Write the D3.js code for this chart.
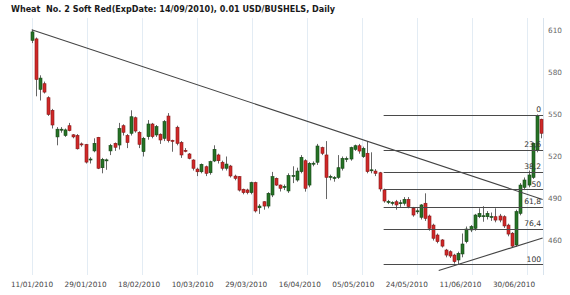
<!DOCTYPE html>
<html><head><meta charset="utf-8">
<script src="https://cdn.jsdelivr.net/npm/d3@7"></script>
<style>html,body{margin:0;padding:0;background:#fff;}svg{display:block;}</style>
</head><body>
<svg id="c" width="570" height="295"></svg>
<script>
// ---- data ----
const title = "Wheat  No. 2 Soft Red(ExpDate: 14/09/2010), 0.01 USD/BUSHELS, Daily";
// [open, high, low, close] per trading day, index 0 = 11/01/2010
const opens  = [603,604,568,572,562,553,534,539,535,542,535.5,535,529,528.5,518,524,533.7,512,517.3,524,529.4,528.2,542,535,536.6,547.7,537.3,523.5,534.2,543.2,535.4,535.9,533,548.9,531.5,540.9,530,524.4,521.8,517.5,511,509.1,512.7,508.4,516.8,521.1,515.9,511.6,513.2,506,505.6,496.6,496.1,494.2,501.3,483.4,487.7,484.6,492.5,504.4,499.6,498.4,495.4,506,503.2,509.2,517,499.6,515,515.9,526.3,521.1,505.6,504.9,505.1,511.6,518.5,518.2,525.1,527.7,519.9,522.3,510.4,509.6,508.4,496.1,487.7,487,487.7,486.8,486.6,489.4,483,481,476.6,486.6,477.5,471,463.9,460.4,453.2,452,449.6,446.1,450.4,459.2,467.5,468.7,477,477.5,477,477,477,477.5,477,471,465.2,456.8,479.4,498,499.6,505.1,524.6,546.6];
const highs  = [610.5,605,578,573.5,563,554,541,541,540,544,536,536,530,529,519.5,533,534,519,518.5,529,530,544,543,536,553,548.5,538,534,546,544,542.5,536.5,546,551,532,542,531,526,522.5,518,512,515,513.5,517,528,522,517,520,514,507,506,497,497,502,502,486,488,494.5,509,505,500,500,508,513,512,521,518,516,516.5,529,527,531,507,506,521,520,520,527,528.5,529,527,531,523,511,509,497,489,488,489,489,491,491,484,483,486,493.7,478.5,472,465,461,454,453,450.5,452,465,470,471,479,483,484.5,481,480,483,479,478,472,466,482,501,505,510,530,550,547];
const lows   = [601,563,560,565,549,540,528,537,534,538,533,525,527,515,515,523,511,508,510.5,521,524,525,535,526,535,537,526,520,532,533,534,529,531,530,523.4,528,519,523,518,510,506,508,506,507,516,515,510,510,505,503,495,493,493,493,480,479,482,483,491,499,495,496,494,501,502,508,494.9,498,513,514,521,489.6,503,502,504,510,516,517,524,522,519,508,508,506,495,487,486,485,482,484,485,483,477,479,475,474,467,460,458,455,448,447.5,443.5,443.2,448,458,466,467,476,473.4,475,474,473,473,469,463,455,455.5,478,496,498,504,523,533];
const closes = [609,575,576,566,550,542.5,539.5,539.5,539,538.5,534,525.5,528.5,516,518.2,529.4,511.6,518,517.6,527.8,526.6,540,537.3,530,548.4,538.2,528.7,533,543.2,534.2,541.3,531.8,544.9,531.3,531.3,529.4,521.1,524.2,518.7,511.6,509.1,514.4,508,516.3,525.1,517,511.6,514.6,506.1,504.4,496,494.2,494.2,501.3,481.1,484.6,484.6,493.7,505.6,499.6,497.3,498.6,506.4,506.5,509.6,519.4,497.3,515.1,515.2,527.5,522.3,505.1,505.8,505,512,518.6,518.6,526.3,527.7,523.9,525.8,509.2,510.5,508,496.8,488.2,487.9,487.2,485.4,487,489.4,484.2,478.2,481.2,485.4,475.8,468.7,461.6,459.2,456,449.6,448.9,444.9,450.8,457.5,468.2,469.9,478.2,479.4,477.7,479.4,477.2,474.6,474.6,470.4,464.6,456,480.6,499.6,503.2,506.8,529.4,548.9,536.6];
const tickIdx    = [0,13,26,39,52,65,78,91,104,117];
const tickLabels = ["11/01/2010","29/01/2010","18/02/2010","10/03/2010","29/03/2010","16/04/2010","05/05/2010","24/05/2010","11/06/2010","30/06/2010"];
const yTicks     = [460,490,520,550,580,610];
// drawn studies
const trendDown  = [[0,610.5],[123.4,489.3]];
const trendUp    = [[98.3,438.6],[123.4,461.8]];
const fibStart   = 85;
const fibHigh    = 550;
const fibLow     = 443.2;
const fibLevels  = [0,23.6,38.2,50,61.8,76.4,100];
const fibLabels  = ["0","23,6","38,2","50","61,8","76,4","100"];

// ---- layout ----
const svg = d3.select("#c");
const plotTop = 18, plotBottom = 275;
const n = opens.length;
const x = d3.scaleLinear().domain([0, n-1]).range([31.7, 541]);
const xEnd = n - 0.5;
const y = d3.scaleLinear().domain([460, 610]).range([240.5, 30.5]);
const xl = d3.scaleLinear().domain([0, 117]).range([32, 514]); // label placement

// vertical grid (fixed pitch)
const gridStep = 55 / (x(1) - x(0));
const gridIdx = d3.range(10).map(k => k * gridStep);
svg.append("g").selectAll("line").data(gridIdx).join("line")
  .attr("x1", d => Math.round(x(d)) + 0.5).attr("x2", d => Math.round(x(d)) + 0.5)
  .attr("y1", plotTop).attr("y2", plotBottom)
  .attr("stroke", "#e3ecf4").attr("stroke-width", 1);
// right border
svg.append("line").attr("x1", Math.round(x(xEnd)) + 0.5).attr("x2", Math.round(x(xEnd)) + 0.5)
  .attr("y1", plotTop).attr("y2", plotBottom).attr("stroke", "#d8e3ed");

// title
svg.append("text").attr("x", 11).attr("y", 11.5).text(title)
  .style("white-space", "pre")
  .attr("textLength", 324).attr("lengthAdjust", "spacingAndGlyphs")
  .attr("font-family", "DejaVu Sans, Verdana, sans-serif").attr("font-weight", "bold")
  .attr("font-size", 9.4).attr("fill", "#1a1a1a");

// x labels
svg.append("g").selectAll("text").data(tickIdx).join("text")
  .attr("x", d => xl(d)).attr("y", 287).attr("text-anchor", "middle")
  .attr("font-family", "DejaVu Sans, Verdana, sans-serif").attr("font-size", 7.3)
  .attr("fill", "#444").text((d, i) => tickLabels[i]);

// y labels
svg.append("g").selectAll("text").data(yTicks).join("text")
  .attr("x", 548).attr("y", d => y(d) + 2.6)
  .attr("font-family", "DejaVu Sans, Verdana, sans-serif").attr("font-size", 7.3)
  .attr("fill", "#666").text(d => d);

// candles
const data = d3.range(n).map(i => ({i, o: opens[i], h: highs[i], l: lows[i], c: closes[i]}));
const g = svg.append("g");
g.selectAll("line.w").data(data).join("line").attr("class", "w")
  .attr("x1", d => Math.round(x(d.i)) + 0.5).attr("x2", d => Math.round(x(d.i)) + 0.5)
  .attr("y1", d => y(d.h)).attr("y2", d => y(d.l))
  .attr("stroke", "#666").attr("stroke-width", 1);
g.selectAll("rect").data(data).join("rect")
  .attr("x", d => Math.round(x(d.i)) - 1)
  .attr("width", 3)
  .attr("y", d => y(Math.max(d.o, d.c)))
  .attr("height", d => Math.max(1, Math.abs(y(d.o) - y(d.c))))
  .attr("fill", d => d.c >= d.o ? "#257325" : "#d02828")
  .attr("stroke", d => d.c >= d.o ? "#154515" : "#861818")
  .attr("stroke-width", 0.6);

// trend lines
const line = d3.line().x(d => x(d[0])).y(d => y(d[1]));
[trendDown, trendUp].forEach(t => svg.append("path").attr("d", line(t))
  .attr("fill", "none").attr("stroke", "#444").attr("stroke-width", 1.1));

// fibonacci
const fibPrice = lv => fibHigh - (fibHigh - fibLow) * lv / 100;
const fg = svg.append("g");
fg.selectAll("line").data(fibLevels).join("line")
  .attr("x1", x(fibStart)).attr("x2", x(xEnd))
  .attr("y1", d => Math.round(y(fibPrice(d))) + 0.5).attr("y2", d => Math.round(y(fibPrice(d))) + 0.5)
  .attr("stroke", "#4a4a4a").attr("stroke-width", 1);
fg.selectAll("text").data(fibLevels).join("text")
  .attr("x", x(xEnd) - 2).attr("y", d => y(fibPrice(d)) - 2.5)
  .attr("text-anchor", "end")
  .attr("font-family", "DejaVu Sans, Verdana, sans-serif").attr("font-size", 7.6)
  .attr("fill", "#333").text((d, i) => fibLabels[i]);
</script>
</body></html>
